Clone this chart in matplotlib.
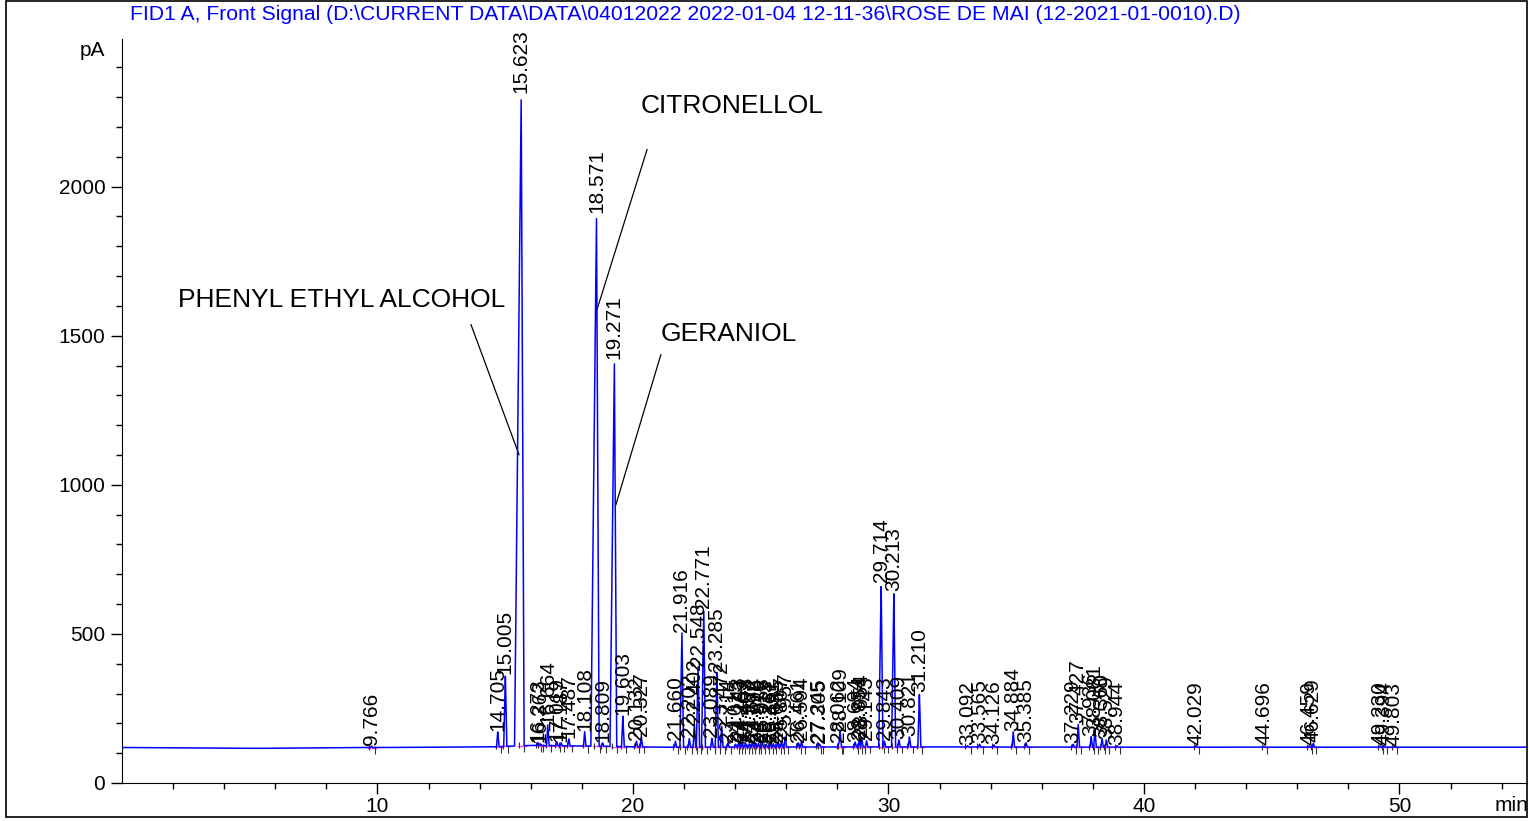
import numpy as np
import matplotlib
matplotlib.use("Agg")
import matplotlib.pyplot as plt
from matplotlib.patches import Rectangle

plt.rcParams['font.family'] = ['Liberation Sans', 'DejaVu Sans']

title = ("FID1 A, Front Signal (D:\\CURRENT DATA\\DATA\\04012022 2022-01-04 12-11-36"
         "\\ROSE DE MAI (12-2021-01-0010).D)")

# baseline drift (min, pA)
base_t = [0, 5, 10, 14.5, 16, 18, 21, 30, 40, 55]
base_v = [119, 116, 119, 121, 126, 124, 120, 121, 120, 120]

# peak retention times (min) and apex heights (pA)
peak_rt = [9.766, 14.705, 15.005, 15.623, 16.273, 16.362, 16.664, 17.019, 17.187,
           17.487, 18.108, 18.571, 18.809, 19.271, 19.603, 20.132, 20.327, 21.660,
           21.916, 22.202, 22.402, 22.548, 22.771, 23.089, 23.285, 23.472, 23.714,
           24.015, 24.143, 24.263, 24.403, 24.557, 24.672, 24.798, 24.910, 25.058,
           25.213, 25.367, 25.491, 25.655, 25.807, 25.957, 26.461, 26.594, 27.245,
           27.305, 28.062, 28.109, 28.694, 28.854, 28.954, 29.143, 29.714, 29.843,
           30.213, 30.409, 30.821, 31.210, 33.092, 33.565, 34.126, 34.884, 35.385,
           37.229, 37.427, 37.936, 38.081, 38.360, 38.529, 38.944, 42.029, 44.696,
           46.459, 46.629, 49.230, 49.394, 49.803]
peak_h = [124, 172, 362, 2310, 135, 132, 195, 138, 135,
          148, 172, 1910, 135, 1420, 226, 140, 155, 140,
          503, 150, 200, 390, 584, 150, 374, 190, 135,
          130, 140, 138, 135, 132, 140, 135, 133, 138,
          130, 135, 132, 136, 140, 155, 135, 140, 135,
          130, 135, 172, 138, 145, 150, 142, 670, 140,
          640, 145, 155, 303, 125, 130, 128, 172, 135,
          130, 198, 155, 181, 150, 145, 125, 125, 123,
          124, 133, 124, 126, 122]

# named compounds: label, text position, line from, line to
names = ["PHENYL ETHYL ALCOHOL", "CITRONELLOL", "GERANIOL"]
name_xy = [(2.2, 1620), (20.3, 2270), (21.1, 1505)]
line_from = [(13.66, 1537), (20.55, 2124), (21.09, 1436)]
line_to = [(15.54, 1101), (18.59, 1587), (19.33, 933)]

t = np.arange(0, 55.0, 0.004)
base = np.interp(t, base_t, base_v)
signal = base.copy()
for rt, h in zip(peak_rt, peak_h):
    b = np.interp(rt, base_t, base_v)
    amp = h - b
    wl = 0.04 + 0.0001 * amp
    wr = 0.05 + 0.00003 * amp
    signal += amp * np.interp(t, [rt - wl, rt, rt + wr], [0, 1, 0], left=0, right=0)

fig = plt.figure(figsize=(15.29, 8.21), dpi=100)
ax = fig.add_axes([0.0798, 0.0463, 0.9190, 0.9062])

ax.plot(t, signal, color='#0000ff', lw=1.1, zorder=3)

for rt, h in zip(peak_rt, peak_h):
    b = np.interp(rt, base_t, base_v)
    ax.plot([rt - 0.12, rt + 0.18], [b, b], color='#ff40ff', lw=1.0, zorder=2)
    ax.vlines([rt - 0.08], b - 8, b + 12, color='#333333', lw=0.8, zorder=2)
    ax.vlines([rt + 0.12], b - 22, b + 4, color='#333333', lw=0.8, zorder=2)
    ax.text(rt, h + 3, f"{rt:.3f}", rotation=90, ha='center', va='bottom',
            fontsize=15, color='black', zorder=4)

for name, xy, p0, p1 in zip(names, name_xy, line_from, line_to):
    ax.text(xy[0], xy[1], name, fontsize=19, ha='left', va='center')
    ax.plot([p0[0], p1[0]], [p0[1], p1[1]], color='black', lw=0.9)

ax.set_xlim(0, 55.0)
ax.set_ylim(0, 2495)
ax.set_xticks([10, 20, 30, 40, 50])
ax.set_xticks([v for v in range(2, 55, 2) if v % 10 != 0], minor=True)
ax.set_yticks([0, 500, 1000, 1500, 2000])
ax.set_yticks([v for v in range(100, 2500, 100) if v % 500 != 0], minor=True)
ax.tick_params(axis='both', which='major', length=8, width=1, direction='out',
               labelsize=15, pad=2)
ax.tick_params(axis='both', which='minor', length=4.5, width=1, direction='out')
ax.tick_params(axis='y', pad=4)
for s in ['top', 'right']:
    ax.spines[s].set_visible(False)

fig.text(92 / 1529, 1 - 50 / 821, "pA", fontsize=15, ha='center', va='center')
fig.text(1512 / 1529, 1 - 805 / 821, "min", fontsize=15, ha='center', va='center')
fig.text(130 / 1529, 1 - 15 / 821, title, fontsize=15.2, color='#0000ff',
         ha='left', va='center')

fig.patches.append(Rectangle((6 / 1529, 4 / 821), 1521 / 1529, 816 / 821,
                             transform=fig.transFigure, fill=False,
                             edgecolor='black', lw=1.2))

fig.savefig("out.png", dpi=100)
